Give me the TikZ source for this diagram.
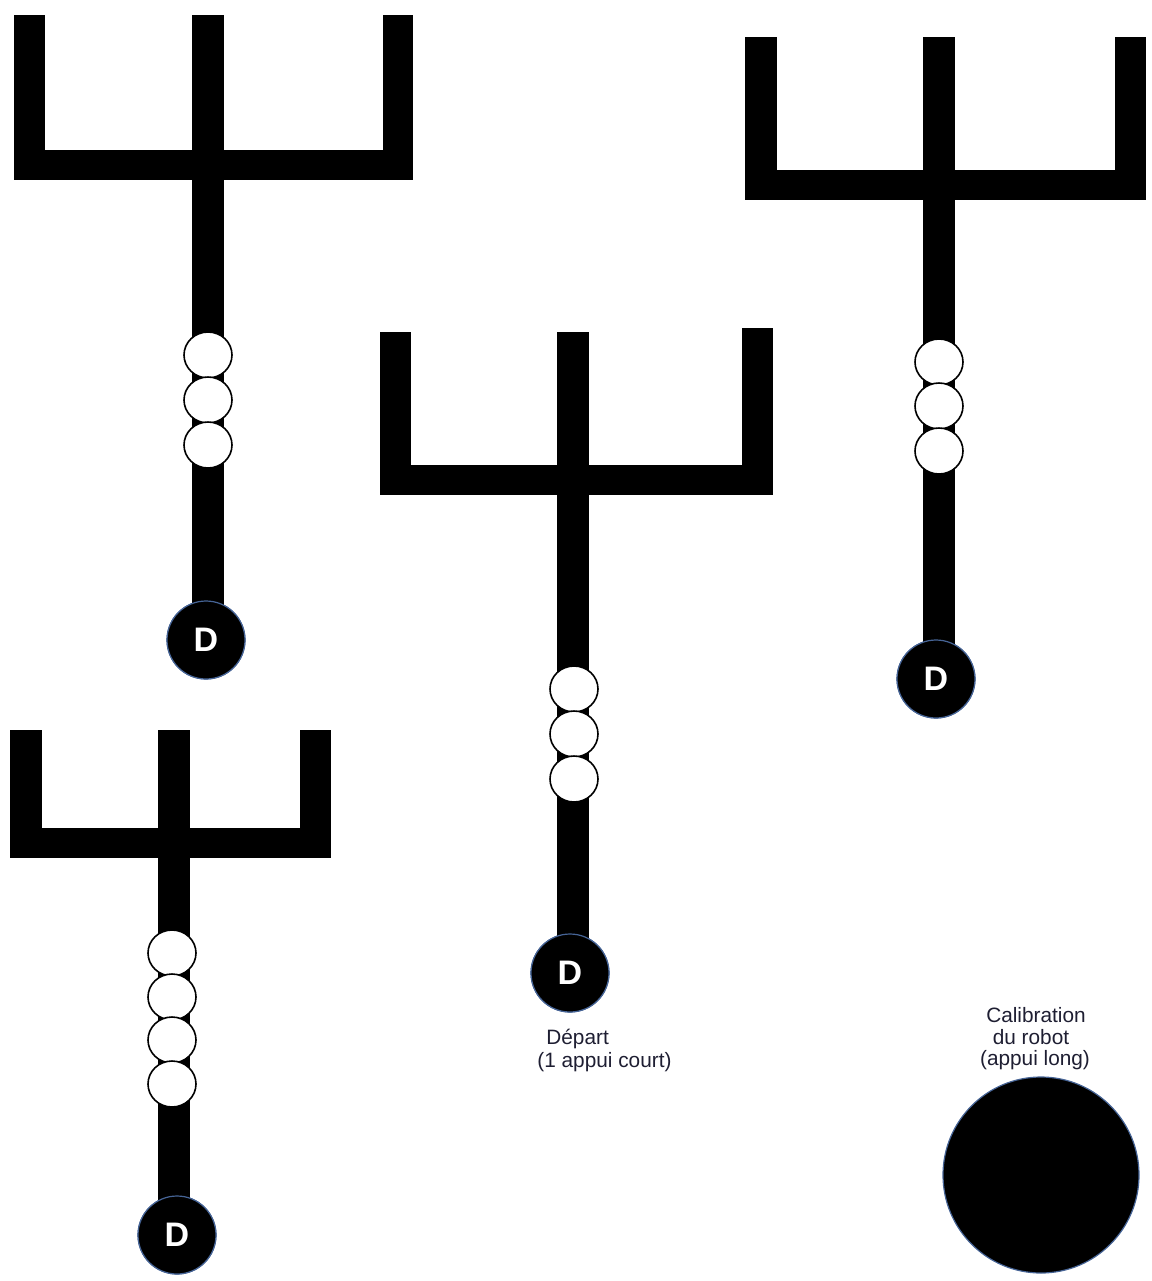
\documentclass[tikz,border=0pt]{standalone}
\usepackage{fontspec}
\usetikzlibrary{shapes.geometric}
\setmainfont{Liberation Sans}
\begin{document}
\begin{tikzpicture}[x=0.5pt,y=-0.5pt,
  bar/.style={fill=black},
  ball/.style={ellipse,draw=black,line width=0.8pt,fill=white,minimum width=24pt,minimum height=23pt,inner sep=0pt},
  dnode/.style={circle,draw={rgb,255:red,70;green,100;blue,150},line width=0.6pt,fill=black,minimum size=39pt,inner sep=0pt,text=white,font=\fontsize{17}{17}\selectfont\bfseries},
  lbl/.style={font=\fontsize{10.4}{12}\selectfont,text={rgb,255:red,30;green,30;blue,50},inner sep=0pt}]
\useasboundingbox (0,0) rectangle (1152,1281);
% ---- Trident 1 (top left)
\fill[bar] (14,15) rectangle (45,180);
\fill[bar] (383,15) rectangle (413,180);
\fill[bar] (14,150) rectangle (413,180);
\coordinate (t1top) at (192,15);
\node[dnode] (d1) at (206,640) {D};
\fill[bar] (t1top) rectangle (224,640);
\node[ball] (b11) at (208,355) {};
\node[ball] (b12) at (208,400) {};
\node[ball] (b13) at (208,445) {};
\node[dnode] at (d1) {D};
% ---- Trident 2 (middle)
\fill[bar] (380,332) rectangle (411,495);
\fill[bar] (742,328) rectangle (773,495);
\fill[bar] (380,465) rectangle (773,495);
\coordinate (t2top) at (557,332);
\node[dnode] (d2) at (570,973) {D};
\fill[bar] (t2top) rectangle (589,973);
\node[ball] (b21) at (574,689) {};
\node[ball] (b22) at (574,734) {};
\node[ball] (b23) at (574,779) {};
\node[dnode] at (d2) {D};
\node[lbl,anchor=west] (dep1) at (546,1039) {Départ};
\node[lbl,anchor=west] (dep2) at (537,1062) {(1 appui court)};
% ---- Trident 3 (top right)
\fill[bar] (745,37) rectangle (777,200);
\fill[bar] (1115,37) rectangle (1146,200);
\fill[bar] (745,170) rectangle (1146,200);
\coordinate (t3top) at (923,37);
\node[dnode] (d3) at (936,679) {D};
\fill[bar] (t3top) rectangle (955,679);
\node[ball] (b31) at (939,362) {};
\node[ball] (b32) at (939,406) {};
\node[ball] (b33) at (939,451) {};
\node[dnode] at (d3) {D};
% ---- Trident 4 (bottom left)
\fill[bar] (10,730) rectangle (42,858);
\fill[bar] (300,730) rectangle (331,858);
\fill[bar] (10,828) rectangle (331,858);
\coordinate (t4top) at (158,730);
\node[dnode] (d4) at (177,1235) {D};
\fill[bar] (t4top) rectangle (190,1235);
\node[ball] (b41) at (172,953) {};
\node[ball] (b42) at (172,997) {};
\node[ball] (b43) at (172,1040) {};
\node[ball] (b44) at (172,1084) {};
\node[dnode] at (d4) {D};
% ---- Calibration
\node[circle,draw={rgb,255:red,70;green,100;blue,150},line width=0.6pt,fill=black,minimum size=98pt,inner sep=0pt] (cal) at (1041,1175) {};
\node[lbl] (c1) at (1036,1015) {Calibration};
\node[lbl] (c2) at (1031,1037) {du robot};
\node[lbl] (c3) at (1035,1060) {(appui long)};
\end{tikzpicture}
\end{document}
